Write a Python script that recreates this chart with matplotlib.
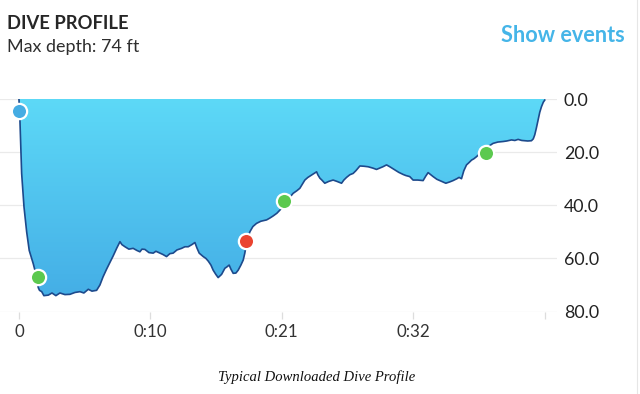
import numpy as np
import matplotlib
matplotlib.use("Agg")
import matplotlib.pyplot as plt
from matplotlib.colors import LinearSegmentedColormap
from matplotlib.lines import Line2D

# ---- data (elapsed minutes, depth in feet) ----
time_min = [0.0, 0.08, 0.22, 0.41, 0.63, 0.84, 1.17, 1.45, 1.58, 1.68, 1.86, 2.04, 2.40, 2.70,
            3.02, 3.35, 3.76, 4.17, 4.58, 4.99, 5.31, 5.67, 5.97, 6.35, 6.62, 6.87, 7.17, 7.44,
            7.71, 8.01, 8.26, 8.42, 8.67, 8.99, 9.34, 9.65, 9.89, 10.06, 10.30, 10.63, 10.98,
            11.20, 11.53, 11.77, 12.07, 12.34, 12.61, 12.92, 13.30, 13.57, 13.84, 14.14, 14.39,
            14.55, 14.74, 15.07, 15.29, 15.48, 15.70, 15.88, 16.10, 16.29, 16.57, 16.84, 17.00,
            17.19, 17.33, 17.52, 17.74, 17.93, 18.15, 18.34, 18.47, 18.56, 18.72, 18.88, 19.13,
            19.43, 19.78, 20.25, 20.52, 20.79, 21.09, 21.34, 21.58, 21.88, 22.15, 22.42, 22.73,
            22.97, 23.18, 23.38, 23.63, 23.93, 24.12, 24.34, 24.44, 24.61, 24.77, 25.01, 25.34,
            25.69, 26.00, 26.38, 26.57, 26.79, 27.06, 27.33, 27.55, 27.88, 28.21, 28.56, 28.94,
            29.24, 29.51, 29.76, 30.06, 30.33, 30.74, 31.06, 31.42, 31.64, 31.96, 32.23, 32.62,
            33.05, 33.27, 33.46, 33.68, 33.87, 34.17, 34.42, 34.66, 34.91, 35.23, 35.50, 35.81,
            35.99, 36.19, 36.38, 36.60, 36.79, 37.01, 37.20, 37.42, 37.69, 37.96, 38.34, 38.77,
            39.16, 39.59, 39.89, 40.28, 40.55, 40.82, 41.12, 41.37, 41.61, 41.91, 42.06, 42.18,
            42.31, 42.45, 42.59, 42.73, 42.88, 43.00]
depth_ft = [0, 8, 28, 40.5, 50, 57, 62, 67, 71, 72, 72.5, 74, 73.8, 73,
            74, 73, 73.6, 73.5, 72.8, 72.5, 73, 71.6, 72.3, 72, 70, 67, 64, 61.5,
            59, 56, 53.7, 54.8, 55.6, 56.5, 56.2, 57, 57.5, 56.5, 56.6, 57.8, 58,
            57.3, 58, 58.5, 59.3, 58.2, 58, 56.8, 56.2, 55.6, 55.6, 54.8, 54,
            56, 58, 59.3, 60, 61, 62.5, 64.4, 66, 67.2, 66, 63.7, 63.2,
            62.5, 64, 65.6, 65.5, 64.4, 62.5, 60.6, 58, 55.6, 52.5, 50, 48,
            46.8, 46, 45.5, 44.8, 44, 43, 41.8, 40.5, 39.3, 37, 35.5, 34.5,
            33.6, 32, 30.5, 29.5, 28.6, 28, 27.4, 28.5, 29.8, 30.5, 31.7, 31,
            30.5, 31, 31.7, 30.5, 29.5, 28.5, 28, 27, 25.2, 25.3, 25.5, 26,
            26.5, 26, 25.5, 24.8, 25.5, 26.7, 27.6, 28.4, 28.8, 29.2, 30.5, 30.5,
            30.7, 29, 27.7, 28.5, 29.2, 30.2, 30.7, 31.2, 31.7, 31.2, 30.7, 30,
            29.5, 30, 27, 24.8, 24, 23, 22.5, 21.7, 20.5, 19.2, 18, 16.7,
            16.2, 16, 15.8, 15.4, 15.6, 15.2, 15.6, 15.7, 15.8, 15.7, 15, 13.5,
            11, 7.9, 5, 2.9, 1.2, 0.4]

event_time = [0.0, 1.58, 18.56, 21.7, 38.16]
event_depth = [4.4, 67, 53.3, 38.4, 20.4]
event_color = ["#45ACE3", "#5CC94F", "#EA4430", "#5CC94F", "#5CC94F"]

y_ticks = [0, 20, 40, 60, 80]
x_ticks = [0, 10.75, 21.5, 32.25, 43.0]
x_tick_labels = ["0", "0:10", "0:21", "0:32", ""]

W, H = 640, 394
fig = plt.figure(figsize=(W / 100, H / 100), dpi=100)
fig.patch.set_facecolor("white")

ax = fig.add_axes([0, (H - 311.6) / H, 557 / W, (311.6 - 99) / H])
ax.set_facecolor("white")

t = np.array(time_min)
d = np.array(depth_ft)

# gradient fill clipped to the profile area
poly = ax.fill_between(t, 0, d, facecolor="none", edgecolor="none")
cmap = LinearSegmentedColormap.from_list("sea", ["#5DD9F7", "#44AEE6"])
grad = np.linspace(0, 1, 256).reshape(-1, 1)
im = ax.imshow(grad, cmap=cmap, aspect="auto", extent=[t.min(), t.max(), 75, 0],
               origin="upper", zorder=2)
im.set_clip_path(poly.get_paths()[0], transform=ax.transData)

ax.plot(t, d, color="#1D4A8C", lw=1.2, zorder=3, solid_joinstyle="round")

for et, ed, ec in zip(event_time, event_depth, event_color):
    ax.plot([et], [ed], "o", ms=11, mfc=ec, mec="white", mew=1.6, zorder=5)

ax.set_xlim(-1.55, 44.0)
ax.set_ylim(80, 0)

for s in ax.spines.values():
    s.set_visible(False)

ax.set_yticks(y_ticks)
ax.set_yticklabels([f"{v:.1f}" for v in y_ticks])
ax.yaxis.tick_right()
ax.tick_params(axis="y", length=0, pad=5, labelsize=12.8, labelcolor="#222222")
ax.grid(axis="y", color="#EAEAEA", lw=0.9, zorder=0)
ax.set_axisbelow(True)

ax.set_xticks(x_ticks)
ax.set_xticklabels(x_tick_labels)
ax.tick_params(axis="x", length=5, width=0.9, color="#DDDDDD", pad=4,
               labelsize=12.2, labelcolor="#333333")

fam = ["Lato", "DejaVu Sans"]
for lab in ax.get_xticklabels() + ax.get_yticklabels():
    lab.set_family(fam)

fig.text(7.3 / W, 1 - 29.3 / H, "DIVE PROFILE", family=fam, weight="bold",
         fontsize=13.2, color="#262626", ha="left", va="baseline")
fig.text(7.3 / W, 1 - 51.7 / H, "Max depth: 74 ft", family=fam,
         fontsize=12.9, color="#2E2E2E", ha="left", va="baseline")
fig.text(625 / W, 1 - 41.7 / H, "Show events", family=fam, weight="bold",
         fontsize=15.6, color="#45B5E8", ha="right", va="baseline")
fig.text(317 / W, 1 - 377 / H, "Typical Downloaded Dive Profile",
         family=["Liberation Serif", "DejaVu Serif"], style="italic",
         fontsize=10.5, color="#111111", ha="center", va="center")

fig.add_artist(Line2D([636.5 / W, 636.5 / W], [0, 1], color="#E6E6E6", lw=0.8))

fig.savefig("out.png", dpi=100, facecolor="white")
